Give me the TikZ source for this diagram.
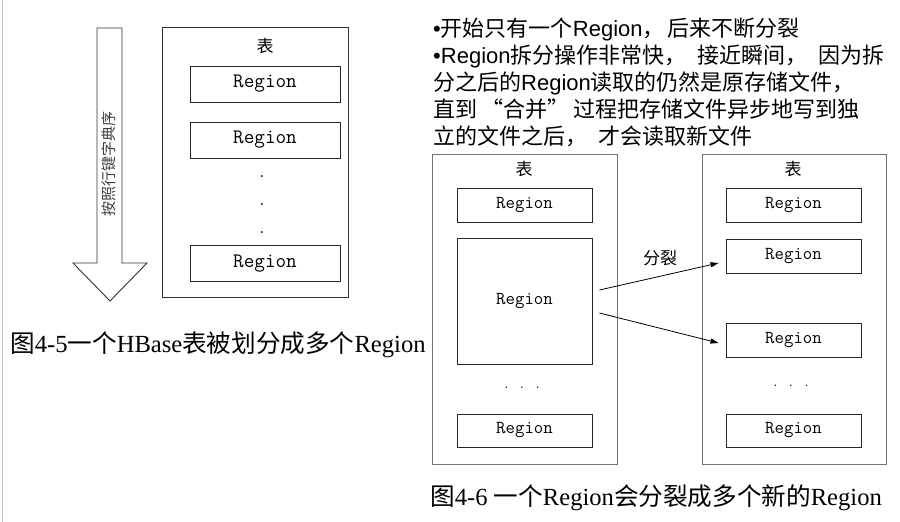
\documentclass[tikz,border=0pt]{standalone}
\usepackage{fontspec}
\setmainfont{Liberation Serif}
\setsansfont{Liberation Sans}
\newfontfamily\cjk{Noto Sans CJK SC}
\usetikzlibrary{arrows.meta}
\newcommand{\zhx}[1]{{\cjk #1}}
\begin{document}
\begin{tikzpicture}[x=1pt,y=-1pt,
  tablebox/.style={draw=black!55, line width=0.9pt, inner sep=0pt},
  regionbox/.style={draw=black!85, line width=0.9pt, inner sep=0pt, fill=white},
  bigreg/.style={regionbox, minimum width=150pt, minimum height=36pt, font=\fontsize{20.6}{20.6}\selectfont\ttfamily},
  smallreg/.style={regionbox, minimum width=135pt, minimum height=34pt, font=\fontsize{18.3}{18.3}\selectfont\ttfamily},
  label/.style={inner sep=0pt, font=\fontsize{17}{17}\selectfont\cjk},
  bodytext/.style={inner sep=0pt, anchor=base west, font=\fontsize{22}{27}\selectfont\sffamily},
  captext/.style={inner sep=0pt, anchor=base west, font=\fontsize{24.6}{27}\selectfont\rmfamily},
  dotnode/.style={inner sep=0pt, anchor=base, font=\fontsize{17}{17}\selectfont\ttfamily},
  arr/.style={-{Triangle[length=8pt,width=5pt]}, line width=0.8pt, black}
]
\useasboundingbox (0,0) rectangle (900,522);
\fill[white] (0,0) rectangle (900,522);
% left border line
\draw[black!25, line width=1pt] (2,0) -- (2,522);

% ===== left panel =====
\draw[black!80, line width=0.9pt, fill=white]
  (97,28) -- (122,28) -- (122,263) -- (147,263) -- (110,301) -- (73,263) -- (97,263) -- cycle;
\node[label, rotate=90, text=black!75, font=\fontsize{15}{15}\selectfont\cjk] (order) at (109,164) {按照行键字典序};

\node[tablebox, draw=black!80, minimum width=186pt, minimum height=270pt] (tblA) at (255,162) {};
\node[label] (tA) at (265,46) {表};
\node[bigreg] (a1) at (265,84) {Region};
\node[bigreg] (a2) at (265,140) {Region};
\node[bigreg] (a3) at (265,263.5) {Region};
\node[dotnode] (ad1) at (262,177) {.};
\node[dotnode] (ad2) at (262,205) {.};
\node[dotnode] (ad3) at (262,233) {.};

\node[captext] (cap1) at (10,352) {\zhx{图}4-5\zhx{一个}HBase\zhx{表被划分成多个}Region};

% ===== right text =====
\node[bodytext] (l1) at (433,36) {•\zhx{开始只有一个}Region\zhx{，\hspace{3pt}后来不断分裂}};
\node[bodytext] (l2) at (433,63) {•Region\zhx{拆分操作非常快，\hspace{11pt}接近瞬间，\hspace{11pt}因为拆}};
\node[bodytext] (l3) at (433,90) {\zhx{分之后的}Region\zhx{读取的仍然是原存储文件，}};
\node[bodytext] (l4) at (433,117) {\zhx{直到\hspace{4pt}“合并”\hspace{4pt}过程把存储文件异步地写到独}};
\node[bodytext] (l5) at (433,144) {\zhx{立的文件之后，\hspace{11pt}才会读取新文件}};

% ===== right panel: before split =====
\node[tablebox, minimum width=185pt, minimum height=310pt] (tblB) at (524.5,309) {};
\node[label] (tB) at (524,169) {表};
\node[smallreg] (b1) at (524.5,205) {Region};
\node[smallreg, minimum height=126pt] (big) at (524.5,301) {Region};
\node[dotnode, font=\fontsize{13}{13}\selectfont\ttfamily] (bd) at (522,388) {. . .};
\node[smallreg, minimum height=33pt] (b3) at (524.5,430.5) {Region};

% ===== right panel: after split =====
\node[tablebox, minimum width=184pt, minimum height=310pt] (tblC) at (794,309) {};
\node[label] (tC) at (793,169) {表};
\node[smallreg] (c1) at (793.5,205) {Region};
\node[smallreg] (c2) at (793.5,256) {Region};
\node[smallreg] (c3) at (793.5,340) {Region};
\node[dotnode, font=\fontsize{13}{13}\selectfont\ttfamily] (cd) at (791,386) {. . .};
\node[smallreg, minimum height=33pt] (c4) at (793.5,430.5) {Region};

\draw[arr] ([shift={(7,-11)}]big.east) -- ([shift={(-7,7)}]c2.west);
\draw[arr] ([shift={(7,12)}]big.east) -- ([shift={(-7,3)}]c3.west);
\node[label] (split) at (660,258) {分裂};

\node[captext] (cap2) at (430,505) {\zhx{图}4-6 \zhx{一个}Region\zhx{会分裂成多个新的}Region};
\end{tikzpicture}
\end{document}
